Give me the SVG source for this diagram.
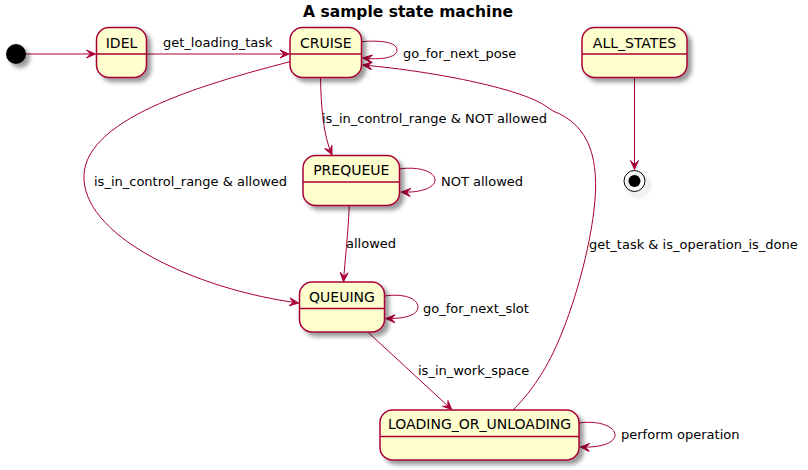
<svg xmlns="http://www.w3.org/2000/svg" width="808" height="470" viewBox="0 0 808 470">
<style>
.st{fill:#FEFECE;stroke:#A80036;stroke-width:1.5;filter:url(#sh)}
.dv{stroke:#A80036;stroke-width:1.5}
.nm{font-family:"DejaVu Sans",sans-serif;font-size:14px;fill:#000;text-anchor:middle}
.lb{font-family:"DejaVu Sans",sans-serif;font-size:13px;fill:#000}
.ed{fill:none;stroke:#A80036;stroke-width:1;marker-end:url(#ah)}
.ttl{font-family:"DejaVu Sans",sans-serif;font-size:16px;font-weight:bold;fill:#000;text-anchor:middle}
</style>
<defs>
<filter id="sh" x="-1" y="-1" width="300%" height="300%">
<feGaussianBlur result="b1" stdDeviation="2"/>
<feColorMatrix in="b1" result="b2" type="matrix" values="0 0 0 0 0 0 0 0 0 0 0 0 0 0 0 0 0 0 .4 0"/>
<feOffset dx="4" dy="4" in="b2" result="b3"/>
<feBlend in="SourceGraphic" in2="b3" mode="normal"/>
</filter>
<marker id="ah" markerUnits="userSpaceOnUse" markerWidth="20" markerHeight="20" viewBox="-10 -10 20 20" refX="0" refY="0" orient="auto" overflow="visible">
<path d="M-9,-4 L0,0 L-9,4 L-5,0 Z" fill="#A80036" stroke="#A80036" stroke-width="1"/>
</marker>
</defs>
<rect width="808" height="470" fill="#FFFFFF"/>
<text class="ttl" x="408" y="17" textLength="210" lengthAdjust="spacingAndGlyphs">A sample state machine</text>

<g id="connectors">
<path class="ed" d="M26,54 L95.5,54"/>
<g><path class="ed" d="M146.5,54 L289,54"/><text class="lb" x="163" y="47">get_loading_task</text></g>
<g><path class="ed" d="M361.5,41.7 C380,40 397,42 397,50 C397,58 380,60 363,58"/><text class="lb" x="403" y="58">go_for_next_pose</text></g>
<g><path class="ed" d="M513,410 C525,398 540,380 553,353 C570,318 588,260 594,210 C600,160 590,125 553,111 L547,107 C525,90 440,72 363,65"/><text class="lb" x="589" y="249">get_task &amp; is_operation_is_done</text></g>
<g><path class="ed" d="M320.5,77.5 C321,105 323,135 332,155"/><text class="lb" x="322" y="123">is_in_control_range &amp; NOT allowed</text></g>
<g><path class="ed" d="M399,169 C420,166 435,172 435,180 C435,188 420,193 401.5,192"/><text class="lb" x="441" y="186">NOT allowed</text></g>
<g><path class="ed" d="M290,61.7 C200,85 80,120 84,180 C88,240 200,290 298.5,303"/><text class="lb" x="94" y="186">is_in_control_range &amp; allowed</text></g>
<g><path class="ed" d="M349.3,205.5 C348,235 345,260 343.5,281.5"/><text class="lb" x="346" y="248">allowed</text></g>
<g><path class="ed" d="M384.5,296 C405,293 418,299 418,307 C418,315 405,319 386,318.5"/><text class="lb" x="423" y="313">go_for_next_slot</text></g>
<g><path class="ed" d="M368.3,332.5 L451.7,409.5"/><text class="lb" x="418" y="375">is_in_work_space</text></g>
<g><path class="ed" d="M579,423 C600,420 615,427 615,435 C615,443 600,448 580.5,447"/><text class="lb" x="621" y="439">perform operation</text></g>
<path class="ed" d="M634.5,77.5 L634.5,169.5"/>
</g>

<g id="initial"><circle cx="16" cy="54" r="10" fill="#000" filter="url(#sh)"/></g>
<g id="IDEL"><rect class="st" x="96.5" y="27.5" width="50" height="50" rx="12.5" ry="12.5"/><line class="dv" x1="96.5" y1="54" x2="146.5" y2="54"/><text class="nm" x="121.5" y="47.5">IDEL</text></g>
<g id="CRUISE"><rect class="st" x="290" y="27.5" width="71.5" height="50" rx="12.5" ry="12.5"/><line class="dv" x1="290" y1="54" x2="361.5" y2="54"/><text class="nm" x="325.75" y="47.5">CRUISE</text></g>
<g id="ALL_STATES"><rect class="st" x="582" y="27.5" width="105" height="50" rx="12.5" ry="12.5"/><line class="dv" x1="582" y1="54" x2="687" y2="54"/><text class="nm" x="634.5" y="47.5">ALL_STATES</text></g>
<g id="PREQUEUE"><rect class="st" x="303" y="155.5" width="96.5" height="50" rx="12.5" ry="12.5"/><line class="dv" x1="303" y1="182" x2="399.5" y2="182"/><text class="nm" x="351.25" y="175">PREQUEUE</text></g>
<g id="QUEUING"><rect class="st" x="299.5" y="282" width="85" height="50" rx="12.5" ry="12.5"/><line class="dv" x1="299.5" y1="308.5" x2="384.5" y2="308.5"/><text class="nm" x="342" y="301.5">QUEUING</text></g>
<g id="LOADING_OR_UNLOADING"><rect class="st" x="380" y="410" width="199" height="50" rx="12.5" ry="12.5"/><line class="dv" x1="380" y1="436.5" x2="579" y2="436.5"/><text class="nm" x="479.5" y="429">LOADING_OR_UNLOADING</text></g>
<g id="final"><circle cx="634.5" cy="181" r="10.5" fill="none" stroke="#000" stroke-width="1" filter="url(#sh)"/><circle cx="634.5" cy="181" r="6" fill="#000"/></g>
</svg>
